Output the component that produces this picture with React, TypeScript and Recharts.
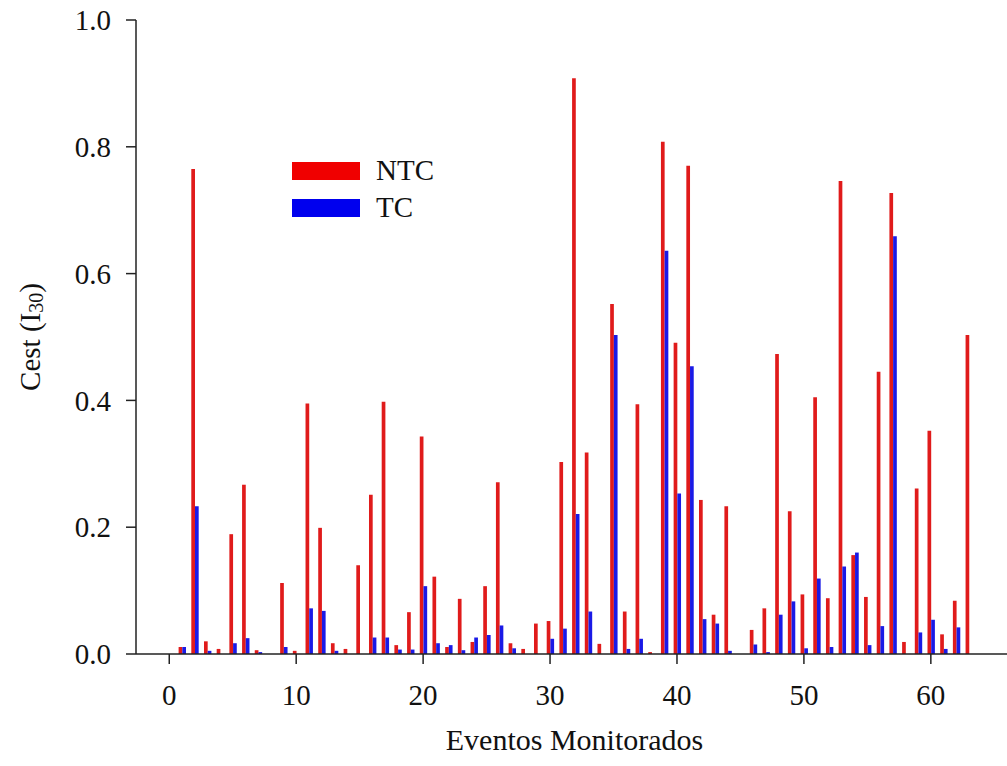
import React from 'react';
import { BarChart, Bar, XAxis, YAxis, Label } from 'recharts';

// Eventos 1..63
const events = Array.from({ length: 63 }, (_, i) => i + 1);

const ntc = [
  0.011, 0.765, 0.02, 0.008, 0.189, 0.267, 0.006, 0, 0.112, 0.005,
  0.395, 0.199, 0.017, 0.008, 0.14, 0.251, 0.398, 0.014, 0.066, 0.343,
  0.122, 0.011, 0.087, 0.019, 0.107, 0.271, 0.017, 0.008, 0.048, 0.052,
  0.303, 0.908, 0.318, 0.016, 0.552, 0.067, 0.394, 0.003, 0.808, 0.491,
  0.77, 0.243, 0.062, 0.233, 0, 0.038, 0.072, 0.473, 0.225, 0.094,
  0.405, 0.088, 0.746, 0.156, 0.09, 0.445, 0.727, 0.019, 0.261, 0.352,
  0.031, 0.084, 0.503,
];

const tc = [
  0.011, 0.233, 0.005, 0, 0.017, 0.025, 0.003, 0, 0.011, 0,
  0.072, 0.068, 0.005, 0, 0, 0.026, 0.026, 0.007, 0.007, 0.107,
  0.017, 0.014, 0.006, 0.026, 0.03, 0.045, 0.009, 0, 0, 0.024,
  0.04, 0.221, 0.067, 0, 0.503, 0.008, 0.024, 0, 0.636, 0.253,
  0.454, 0.055, 0.048, 0.005, 0, 0.015, 0.003, 0.062, 0.083, 0.009,
  0.119, 0.011, 0.138, 0.16, 0.014, 0.044, 0.659, 0, 0.034, 0.054,
  0.008, 0.042, 0,
];

const xTicks = [0, 10, 20, 30, 40, 50, 60];
const yTicks = [0, 0.2, 0.4, 0.6, 0.8, 1.0];

const FONT = '"Liberation Serif", "Times New Roman", serif';
const RED = '#e01b1b';
const BLUE = '#1a1ae6';

const legendItems = [
  { name: 'NTC', color: '#f00000' },
  { name: 'TC', color: '#0000ee' },
];

const data = events.map((e, i) => ({ event: e, NTC: ntc[i], TC: tc[i] }));

const renderYLabel = () => (
  <text
    x={30}
    y={337}
    transform="rotate(-90, 30, 337)"
    textAnchor="middle"
    dominantBaseline="central"
    fontFamily={FONT}
    fontSize={29}
    fill="#111"
  >
    Cest (I
    <tspan dy={6} fontSize={20}>30</tspan>
    <tspan dy={-6}>)</tspan>
  </text>
);

export default function App() {
  return (
    <div style={{ position: 'absolute', left: 0, top: 0, width: 1007, height: 766, background: '#fff' }}>
      <BarChart
        width={1007}
        height={766}
        data={data}
        margin={{ top: 20, right: 0, left: 0, bottom: 0 }}
        barGap={0}
        barCategoryGap={0}
      >
        <XAxis
          dataKey="event"
          type="number"
          domain={[-2.62, 66]}
          allowDataOverflow
          ticks={xTicks}
          height={112}
          tickSize={10}
          tickMargin={20}
          axisLine={{ stroke: '#222', strokeWidth: 1.5 }}
          tickLine={{ stroke: '#222', strokeWidth: 1.5 }}
          tick={{ fill: '#111', fontSize: 29, fontFamily: FONT }}
        >
          <Label
            value="Eventos Monitorados"
            position="insideBottom"
            offset={16}
            dx={3}
            style={{ fill: '#111', fontSize: 30, fontFamily: FONT }}
          />
        </XAxis>
        <YAxis
          domain={[0, 1]}
          ticks={yTicks}
          width={136}
          tickSize={10}
          tickMargin={15}
          tickFormatter={(v: number) => v.toFixed(1)}
          axisLine={{ stroke: '#222', strokeWidth: 1.5 }}
          tickLine={{ stroke: '#222', strokeWidth: 1.5 }}
          tick={{ fill: '#111', fontSize: 29, fontFamily: FONT }}
        >
          <Label content={renderYLabel} />
        </YAxis>
        <Bar dataKey="NTC" fill={RED} barSize={3.7} isAnimationActive={false} />
        <Bar dataKey="TC" fill={BLUE} barSize={3.7} isAnimationActive={false} />
      </BarChart>
      <div
        style={{
          position: 'absolute',
          left: 292,
          top: 152,
          fontFamily: FONT,
          fontSize: 29,
          color: '#111',
        }}
      >
        {legendItems.map((it) => (
          <div key={it.name} style={{ display: 'flex', alignItems: 'center', height: 37 }}>
            <span style={{ display: 'inline-block', width: 68, height: 18, background: it.color, marginRight: 16 }} />
            <span>{it.name}</span>
          </div>
        ))}
      </div>
    </div>
  );
}
